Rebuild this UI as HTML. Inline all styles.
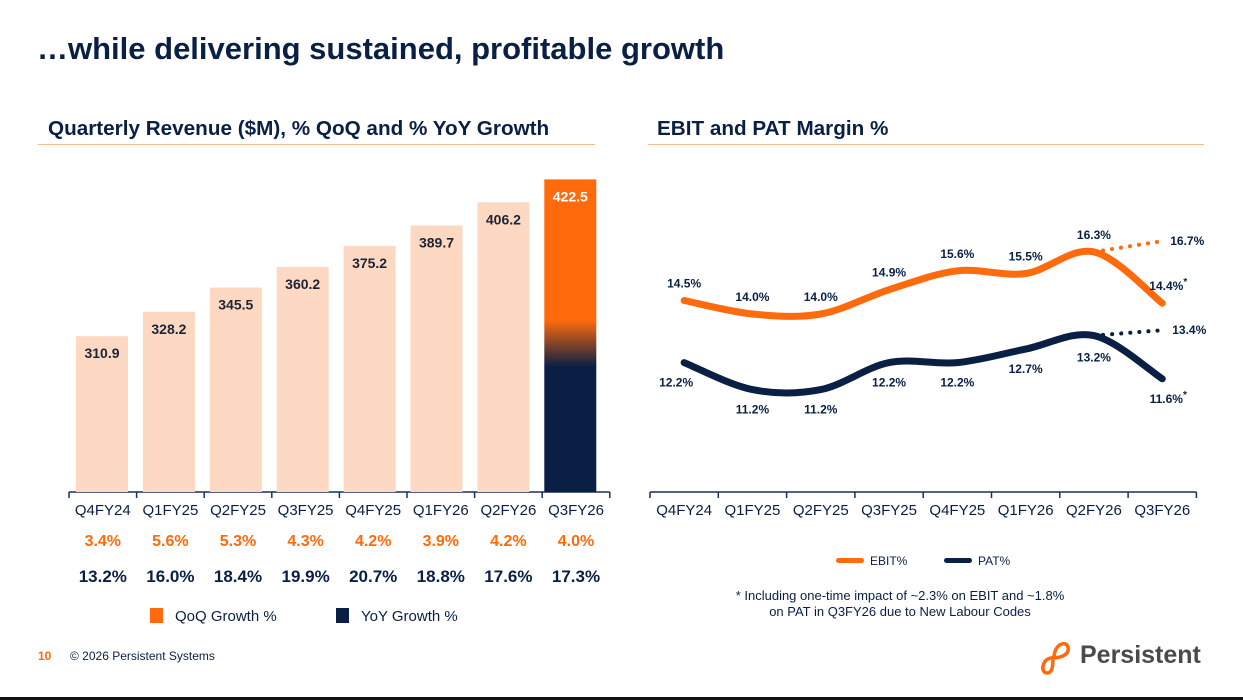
<!DOCTYPE html>
<html><head><meta charset="utf-8"><style>
body{margin:0;width:1243px;height:700px;background:#fff;position:relative;overflow:hidden;font-family:"Liberation Sans",Arial,sans-serif;}
.abs{position:absolute;}
</style></head><body>
<div class="abs" style="left:37px;top:31px;font-size:31px;font-weight:bold;color:#0a1f44;">…while delivering sustained, profitable growth</div>
<div class="abs" style="left:48px;top:117px;font-size:20.7px;font-weight:bold;color:#0a1f44;">Quarterly Revenue ($M), % QoQ and % YoY Growth</div>
<div class="abs" style="left:38px;top:144px;width:557px;height:1px;background:#f6b992;"></div>
<div class="abs" style="left:657px;top:117px;font-size:20.7px;font-weight:bold;color:#0a1f44;">EBIT and PAT Margin %</div>
<div class="abs" style="left:648px;top:144px;width:556px;height:1px;background:#f6b992;"></div>

<svg class="abs" style="left:0;top:0" width="1243" height="700" id="svg">
<defs><linearGradient id="lastbar" x1="0" y1="0" x2="0" y2="1">
<stop offset="0" stop-color="#ff6a0d"/><stop offset="0.45" stop-color="#ff6a0d"/><stop offset="0.6" stop-color="#0a1f44"/><stop offset="1" stop-color="#0a1f44"/></linearGradient></defs>
</svg>

<div class="abs" style="left:150px;top:608px;font-size:15px;color:#0a1f44;"><span style="display:inline-block;width:13px;height:15px;background:#ff6a0d;vertical-align:-2px;margin-right:12px"></span>QoQ Growth %</div>
<div class="abs" style="left:336px;top:608px;font-size:15px;color:#0a1f44;"><span style="display:inline-block;width:13px;height:15px;background:#0a1f44;vertical-align:-2px;margin-right:12px"></span>YoY Growth %</div>
<div class="abs" style="left:836px;top:554px;font-size:12px;color:#0a1f44;"><span style="display:inline-block;width:28px;height:5px;border-radius:3px;background:#ff6a0d;vertical-align:2px;margin-right:6px"></span>EBIT%</div>
<div class="abs" style="left:944px;top:554px;font-size:12px;color:#0a1f44;"><span style="display:inline-block;width:28px;height:5px;border-radius:3px;background:#0a1f44;vertical-align:2px;margin-right:6px"></span>PAT%</div>
<div class="abs" style="left:700px;top:588px;width:400px;text-align:center;font-size:13px;line-height:16px;color:#0a1f44;">* Including one-time impact of ~2.3% on EBIT and ~1.8%<br>on PAT in Q3FY26 due to New Labour Codes</div>
<div class="abs" style="left:38px;top:649px;font-size:12px;font-weight:bold;color:#ff6a0d;">10</div>
<div class="abs" style="left:70px;top:649px;font-size:12px;color:#0a1f44;">© 2026 Persistent Systems</div>
<div class="abs" style="left:1034px;top:636px;width:175px;height:40px;">
<svg width="40" height="40" style="position:absolute;left:0;top:0"><path d="M20 22 C20 8 32 4 34 11 C36 20 24 22 18 22 C8 22 6 37 13 37 C19 37 19 28 19 20" fill="none" stroke="#ff6a0d" stroke-width="3.5"/></svg>
<span style="position:absolute;left:46px;top:5px;font-size:25px;font-weight:bold;color:#4a4a4a;">Persistent</span></div>
<div class="abs" style="left:0;top:697px;width:1243px;height:3px;background:#111;"></div>

<script>
const quarters=["Q4FY24","Q1FY25","Q2FY25","Q3FY25","Q4FY25","Q1FY26","Q2FY26","Q3FY26"];
const revenue=[310.9,328.2,345.5,360.2,375.2,389.7,406.2,422.5];
const qoq=["3.4%","5.6%","5.3%","4.3%","4.2%","3.9%","4.2%","4.0%"];
const yoy=["13.2%","16.0%","18.4%","19.9%","20.7%","18.8%","17.6%","17.3%"];
const ebit=[14.5,14.0,14.0,14.9,15.6,15.5,16.3,14.4];
const pat=[12.2,11.2,11.2,12.2,12.2,12.7,13.2,11.6];
const ebitAdj=16.7;
const patAdj=13.4;
const ebitLabels=["14.5%","14.0%","14.0%","14.9%","15.6%","15.5%","16.3%","14.4%"];
const patLabels=["12.2%","11.2%","11.2%","12.2%","12.2%","12.7%","13.2%","11.6%"];

const svg=document.getElementById('svg');
const NS="http://www.w3.org/2000/svg";
function mk(t,a,txt){const e=document.createElementNS(NS,t);for(const k in a)e.setAttribute(k,a[k]);if(txt!==undefined)e.textContent=txt;svg.appendChild(e);return e;}
const bx0=69,bw=67.6,base=492;
const bxc=i=>bx0+bw*(i+0.5);
const barc=i=>102+66.9*i;
const by=v=>base-(v-200)*1.405;
let e=mk('line',{x1:bx0,y1:base,x2:bx0+bw*8,y2:base,stroke:'#1d2f55','stroke-width':1.5});


for(let i=0;i<=8;i++){const t=mk('line',{x1:bx0+bw*i,y1:base,x2:bx0+bw*i,y2:base+6,stroke:'#1d2f55','stroke-width':1.5});

}
revenue.forEach((v,i)=>{
  const last=i===revenue.length-1;
  const r=mk('rect',{x:barc(i)-26,y:by(v),width:52,height:base-by(v),fill:last?'url(#lastbar)':'#fdd9c4'});
  
  
  const l=mk('text',{x:barc(i),y:by(v)+22,'text-anchor':'middle','font-size':14,'font-weight':'bold',fill:last?'#fff':'#1d2433'},v.toFixed(1));
  
  
  const c=mk('text',{x:bxc(i),y:515,'text-anchor':'middle','font-size':15,fill:'#0a1f44'},quarters[i]);
  
  
  const q=mk('text',{x:bxc(i),y:546,'text-anchor':'middle','font-size':16,'font-weight':'bold',fill:'#ff6a0d'},qoq[i]);
  
  
  const y=mk('text',{x:bxc(i),y:582,'text-anchor':'middle','font-size':17,'font-weight':'bold',fill:'#0a1f44'},yoy[i]);
  
  
});
const lx0=650,lw=68.3;
const lx=i=>lx0+lw*(i+0.5);
const ly=v=>692-27*v;
e=mk('line',{x1:lx0,y1:492,x2:lx0+lw*8,y2:492,stroke:'#1d2f55','stroke-width':1.5});


for(let i=0;i<=8;i++){const t=mk('line',{x1:lx0+lw*i,y1:492,x2:lx0+lw*i,y2:498,stroke:'#1d2f55','stroke-width':1.5});

}
quarters.forEach((q,i)=>{const c=mk('text',{x:lx(i),y:515,'text-anchor':'middle','font-size':15,fill:'#0a1f44'},q);

});
function smooth(vals){
  const p=vals.map((v,i)=>[lx(i),ly(v)]);
  let d='M'+p[0][0]+','+p[0][1];
  for(let i=0;i<p.length-1;i++){
    const p0=p[i-1]||p[i],p1=p[i],p2=p[i+1],p3=p[i+2]||p2;
    const c1=[p1[0]+(p2[0]-p0[0])/6,p1[1]+(p2[1]-p0[1])/6];
    const c2=[p2[0]-(p3[0]-p1[0])/6,p2[1]-(p3[1]-p1[1])/6];
    d+=` C${c1[0]},${c1[1]} ${c2[0]},${c2[1]} ${p2[0]},${p2[1]}`;
  }
  return d;
}
e=mk('line',{x1:lx(6),y1:ly(ebit[6]),x2:lx(7),y2:ly(ebitAdj),stroke:'#ff6a0d','stroke-width':4,'stroke-dasharray':'0.1 9','stroke-linecap':'round'});


e=mk('line',{x1:lx(6),y1:ly(pat[6]),x2:lx(7),y2:ly(patAdj),stroke:'#0a1f44','stroke-width':4,'stroke-dasharray':'0.1 9','stroke-linecap':'round'});


e=mk('path',{d:smooth(ebit),fill:'none',stroke:'#ff6a0d','stroke-width':7,'stroke-linecap':'round'});


e=mk('path',{d:smooth(pat),fill:'none',stroke:'#0a1f44','stroke-width':7,'stroke-linecap':'round'});


function lab(x,y,s,star,name){
  const t=mk('text',{x:x,y:y,'text-anchor':'middle','font-size':12,'font-weight':'bold',fill:'#0a1f44'},s);
  if(star){const ts=document.createElementNS(NS,'tspan');ts.setAttribute('dy','-5');ts.setAttribute('font-size','10');ts.textContent='*';t.appendChild(ts);}
  
  
}
ebitLabels.forEach((s,i)=>{
  lab(lx(i)+(i===7?6:0),ly(ebit[i])-13,s,i===7,'ebit-value-label');
});
patLabels.forEach((s,i)=>{
  lab(lx(i)+(i===7?6:0)-(i===0?8:0),ly(pat[i])+(i===6?26:24),s,i===7,'pat-value-label');
});
e=mk('text',{x:lx(7)+8,y:ly(ebitAdj)+4,'font-size':12,'font-weight':'bold',fill:'#0a1f44'},ebitAdj.toFixed(1)+'%');


e=mk('text',{x:lx(7)+10,y:ly(patAdj)+4,'font-size':12,'font-weight':'bold',fill:'#0a1f44'},patAdj.toFixed(1)+'%');


</script>
</body></html>
